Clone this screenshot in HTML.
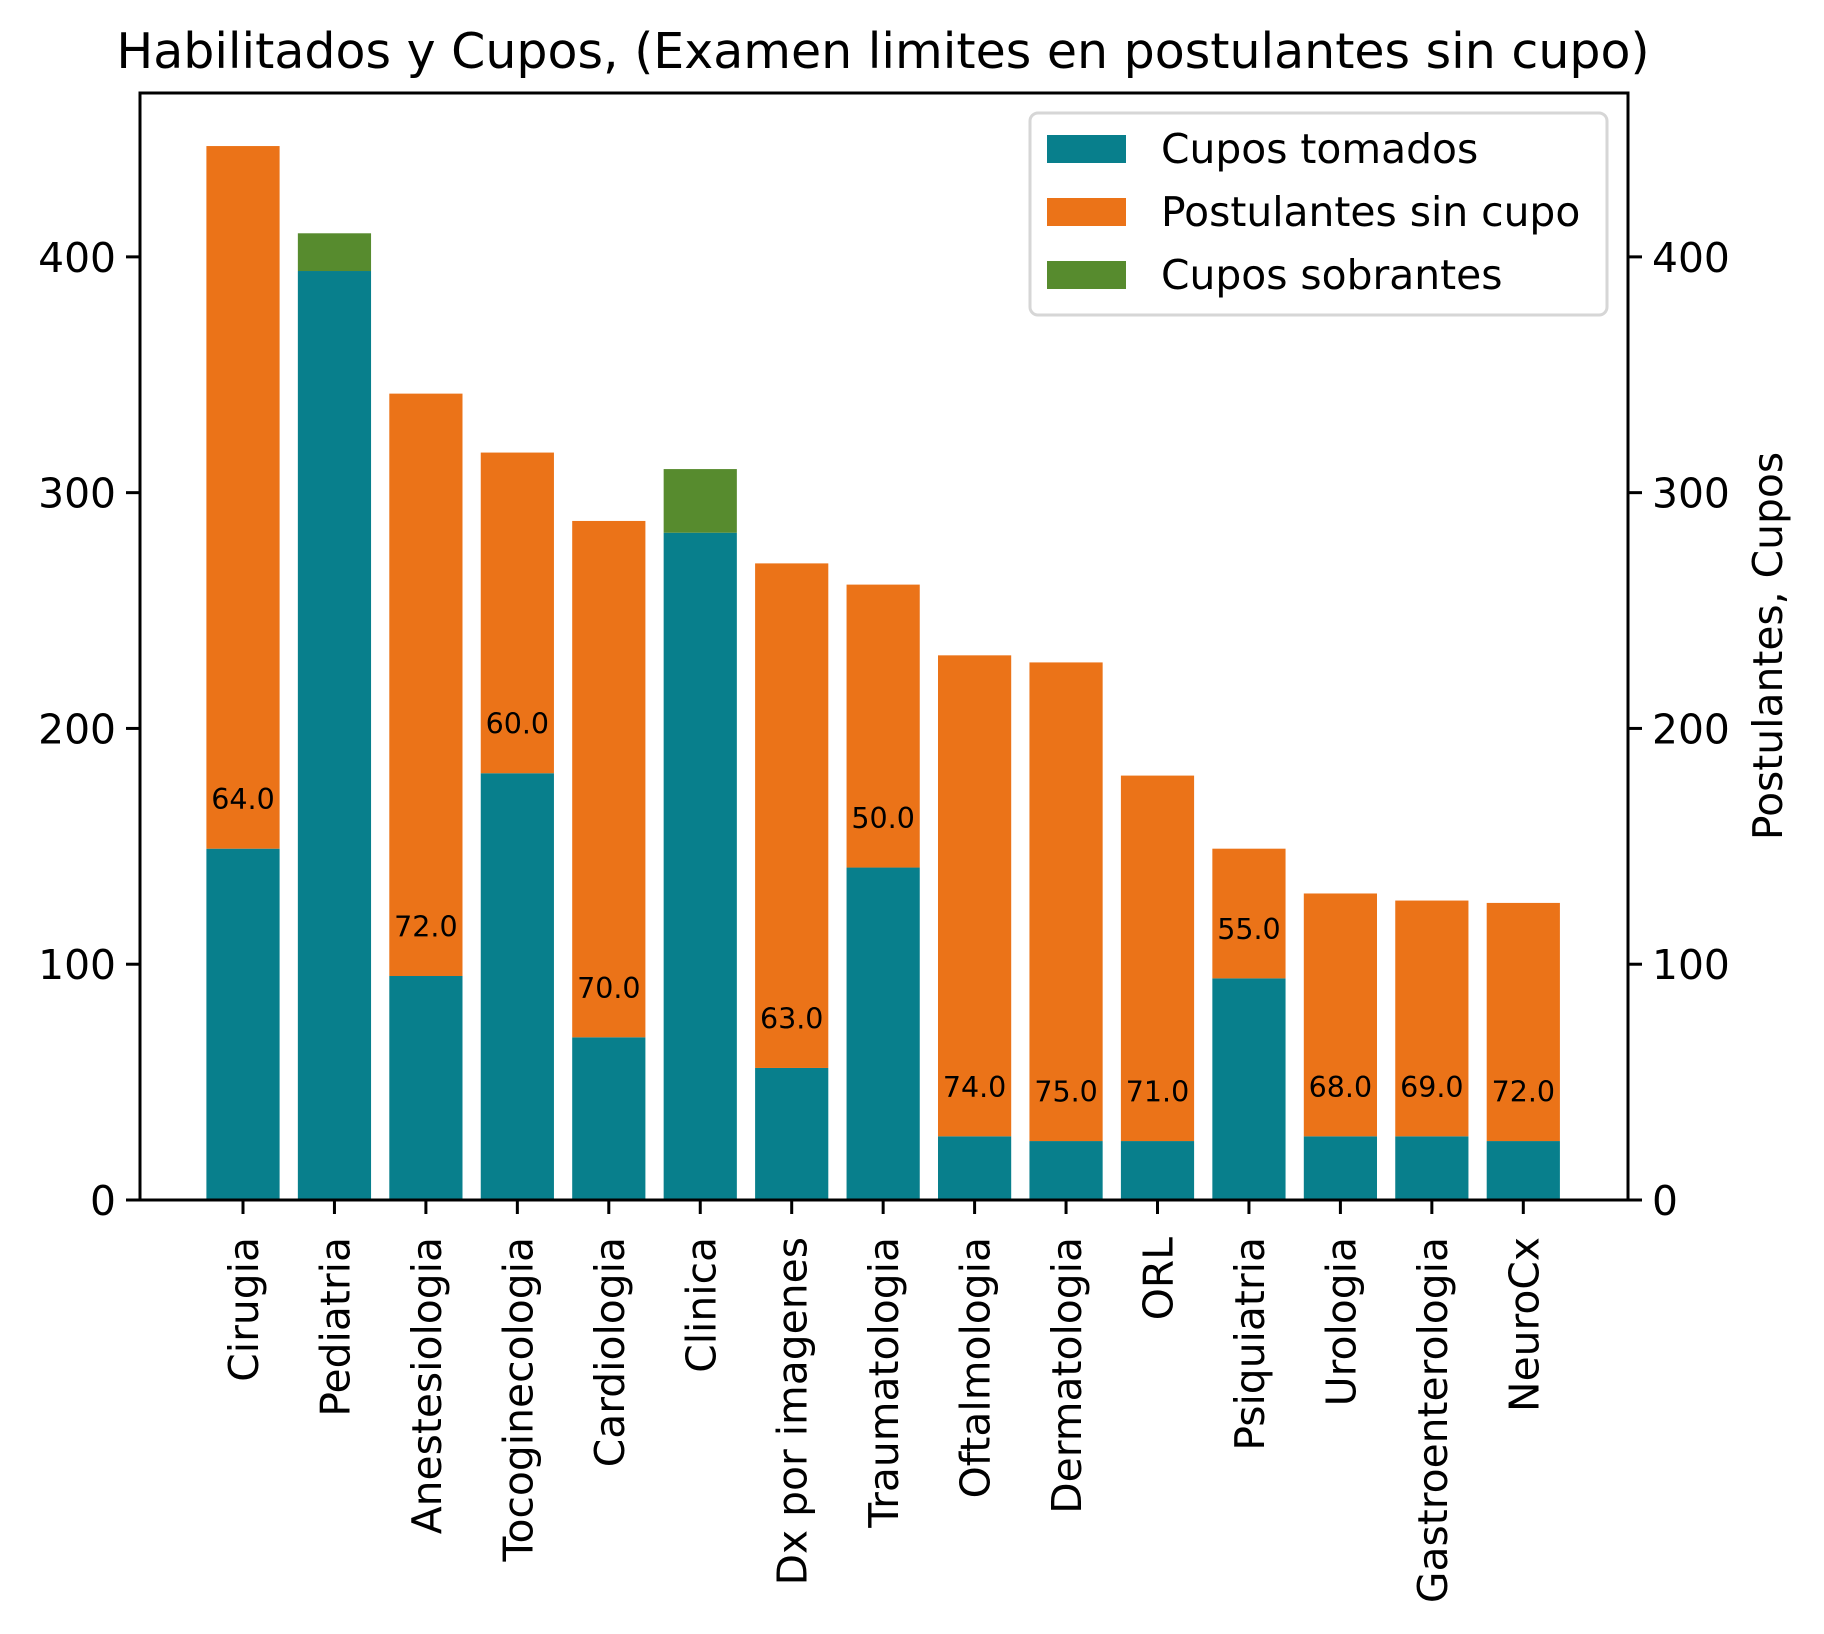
<!DOCTYPE html>
<html><head><meta charset="utf-8"><style>
html,body{margin:0;padding:0;background:#fff;}
svg{display:block;font-family:"DejaVu Sans","Liberation Sans",sans-serif;}
</style></head><body>
<svg id="chart" width="1824" height="1634" viewBox="0 0 1824 1634" xmlns="http://www.w3.org/2000/svg">
<rect width="1824" height="1634" fill="#fff"/>
<text x="883" y="68" font-size="49" text-anchor="middle">Habilitados y Cupos, (Examen limites en postulantes sin cupo)</text>
<g id="bars"></g>
<g id="axes"></g>
<g>
<rect x="1030" y="113" width="577" height="202" rx="8" fill="#fff" fill-opacity="0.8" stroke="#d6d6d6" stroke-width="3"/>
<rect x="1047" y="135" width="79" height="28" fill="#087f8c"/>
<text x="1161" y="163" font-size="40.8">Cupos tomados</text>
<rect x="1047" y="198" width="79" height="28" fill="#eb7318"/>
<text x="1161" y="226" font-size="40.8">Postulantes sin cupo</text>
<rect x="1047" y="261" width="79" height="28" fill="#578b2e"/>
<text x="1161" y="289" font-size="40.8">Cupos sobrantes</text>
</g>
<text transform="translate(1782,646) rotate(-90)" font-size="40.8" text-anchor="middle">Postulantes, Cupos</text>
</svg>
<script>
const categories = ["Cirugia","Pediatria","Anestesiologia","Tocoginecologia","Cardiologia","Clinica","Dx por imagenes","Traumatologia","Oftalmologia","Dermatologia","ORL","Psiquiatria","Urologia","Gastroenterologia","NeuroCx"];
const tomados = [149,394,95,181,69,283,56,141,27,25,25,94,27,27,25];
const sinCupo = [298,0,247,136,219,0,214,120,204,203,155,55,103,100,101];
const sobrantes = [0,16,0,0,0,27,0,0,0,0,0,0,0,0,0];
const limites = [64,null,72,60,70,null,63,50,74,75,71,55,68,69,72];
const yTicks = [0,100,200,300,400];

const NS="http://www.w3.org/2000/svg";
const L=140,R=1628,T=93,B=1200,yMax=469.5;
function yS(v){return B-(v/yMax)*(B-T);}
function xS(i){return 243+i*91.45;}
const bw=73.2;
const bars=document.getElementById('bars'), axes=document.getElementById('axes');
function mk(tag,attrs,parent){const e=document.createElementNS(NS,tag);for(const k in attrs)e.setAttribute(k,attrs[k]);parent.appendChild(e);return e;}
categories.forEach((c,i)=>{
  const x=xS(i)-bw/2;
  const r1=mk('rect',{x:x,y:yS(tomados[i]),width:bw,height:yS(0)-yS(tomados[i]),fill:'#087f8c'},bars);
  
  
  if(sinCupo[i]>0){
    const r2=mk('rect',{x:x,y:yS(tomados[i]+sinCupo[i]),width:bw,height:yS(tomados[i])-yS(tomados[i]+sinCupo[i]),fill:'#eb7318'},bars);
    
    
  }
  if(sobrantes[i]>0){
    const r3=mk('rect',{x:x,y:yS(tomados[i]+sobrantes[i]),width:bw,height:yS(tomados[i])-yS(tomados[i]+sobrantes[i]),fill:'#578b2e'},bars);
    
    
  }
  if(limites[i]!==null){
    const t=mk('text',{x:xS(i),y:yS(tomados[i]+21)+10,'font-size':'28.5','text-anchor':'middle'},bars);
    t.textContent=limites[i].toFixed(1);
    
    
  }
  const tk=mk('line',{x1:xS(i),x2:xS(i),y1:B,y2:B+14,stroke:'#000','stroke-width':3},axes);
  
  
  const lb=mk('text',{transform:`translate(${xS(i)+15},${B+37}) rotate(-90)`,'font-size':'40.8','text-anchor':'end'},axes);
  lb.textContent=c;
  
  
});
yTicks.forEach(v=>{
  const y=yS(v);
  const a=mk('line',{x1:L-14,x2:L,y1:y,y2:y,stroke:'#000','stroke-width':3},axes);
  
  
  const b=mk('line',{x1:R,x2:R+14,y1:y,y2:y,stroke:'#000','stroke-width':3},axes);
  
  
  const t1=mk('text',{x:L-24,y:y+15,'font-size':'40.8','text-anchor':'end'},axes);
  t1.textContent=v;
  
  
  const t2=mk('text',{x:R+24,y:y+15,'font-size':'40.8','text-anchor':'start'},axes);
  t2.textContent=v;
  
  
});
const fr=mk('rect',{x:L,y:T,width:R-L,height:B-T,fill:'none',stroke:'#000','stroke-width':3},axes);


</script>
</body></html>
